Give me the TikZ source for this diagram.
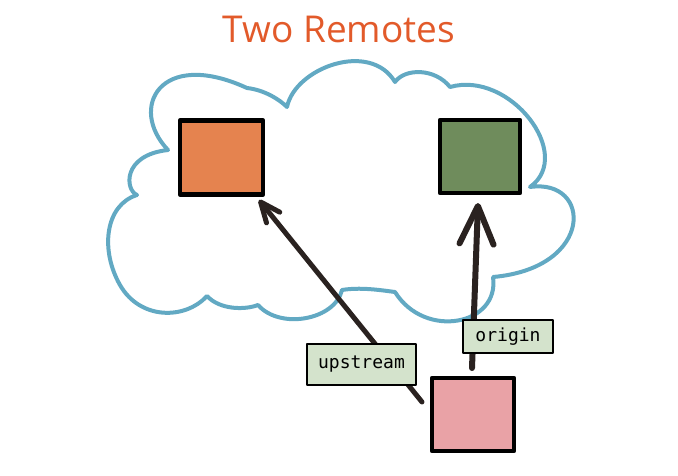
\documentclass[tikz,border=0pt]{standalone}
\usepackage{fontspec}
\setmainfont{Open Sans}
\newfontfamily\labelmono{DejaVu Sans Mono}
\usetikzlibrary{arrows.meta}
\definecolor{cloudblue}{HTML}{62A9C3}
\definecolor{titleorange}{HTML}{E25A2A}
\definecolor{remoteorange}{HTML}{E5834F}
\definecolor{remotegreen}{HTML}{6F8C5C}
\definecolor{localpink}{HTML}{E9A2A6}
\definecolor{labelgreen}{HTML}{D4E3CC}
\definecolor{arrowbrown}{HTML}{2A2220}
\begin{document}
\begin{tikzpicture}[x=1pt,y=-1pt,
  repobox/.style={draw=black, line width=4.5pt, line join=round, inner sep=0pt},
  tagbox/.style={draw=black, line width=2.4pt, line join=round, fill=labelgreen, inner sep=0pt,
     font=\labelmono\fontsize{18}{18}\selectfont},
  connector/.style={draw=arrowbrown, line width=5pt, line cap=round}
]
\useasboundingbox (0,0) rectangle (678,475);

% title
\node[anchor=base, font=\fontsize{37}{37}\selectfont, text=titleorange] (title) at (339,42) {Two Remotes};

% cloud
\draw[cloudblue, line width=4pt, line join=round]
  (137,195) .. controls (125,190) and (122,155) .. (168,150)
  .. controls (128,108) and (160,48) .. (247,88)
  .. controls (265,90) and (280,100) .. (287,107)
  .. controls (295,68) and (370,40) .. (395,82)
  .. controls (405,68) and (435,68) .. (450,87)
  .. controls (510,70) and (575,155) .. (530,187)
  .. controls (592,178) and (595,268) .. (493,277)
  .. controls (500,325) and (425,340) .. (395,292)
  .. controls (380,290) and (360,287) .. (342,290)
  .. controls (335,320) and (280,330) .. (258,305)
  .. controls (245,310) and (220,310) .. (207,296)
  .. controls (185,320) and (140,320) .. (120,285)
  .. controls (100,250) and (105,205) .. cycle;

% repositories
\node[repobox, fill=remoteorange, minimum width=83pt, minimum height=74pt] (upstreamrepo) at (221.5,157.5) {};
\node[repobox, fill=remotegreen, minimum width=80pt, minimum height=73pt] (originrepo) at (480,156.5) {};
\node[repobox, fill=localpink, minimum width=82pt, minimum height=73pt] (localrepo) at (473,414.5) {};

% arrow end points
\coordinate (upstart) at (422,402);
\coordinate (upend) at (259,200);
\coordinate (orstart) at (472,368);
\coordinate (orend) at (478,203);

\draw[connector, -{Straight Barb[length=20pt,width=17pt,round]}] (upstart) -- (upend);
\draw[connector, line width=6pt, -{Straight Barb[length=38pt,width=34pt,round]}] (orstart) -- (orend);

% labels
\node[tagbox, minimum width=109pt, minimum height=41pt] (uplabel) at (361.5,364.5) {upstream};
\node[tagbox, minimum width=90pt, minimum height=33pt] (orlabel) at (508,336.5) {origin};
\end{tikzpicture}
\end{document}
